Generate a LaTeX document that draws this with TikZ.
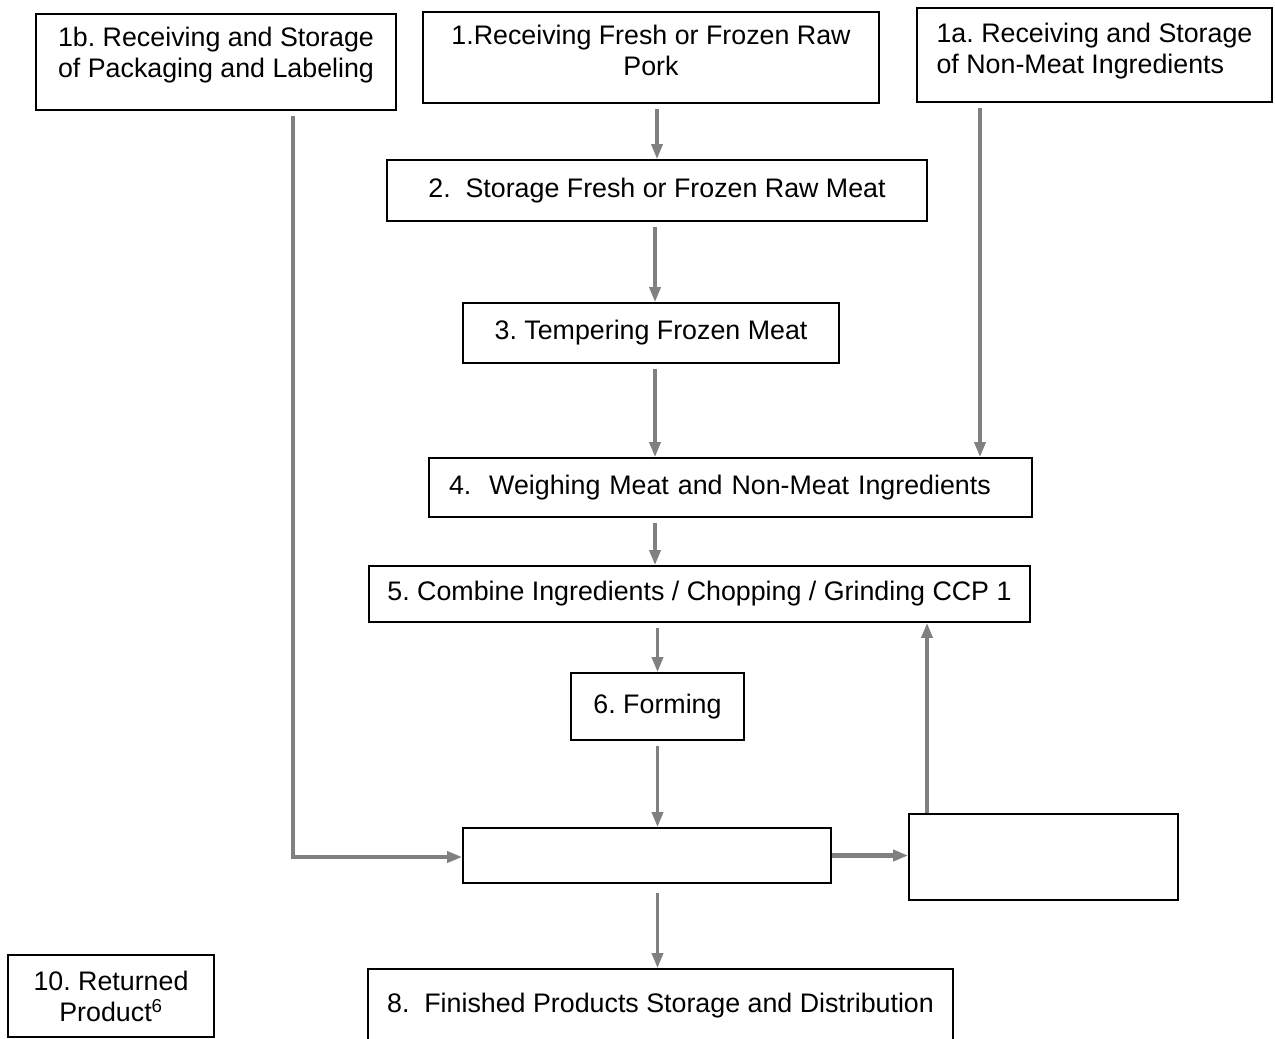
\documentclass[tikz,border=0pt]{standalone}
\usepackage{fontspec}
\setmainfont{Liberation Sans}
\usetikzlibrary{arrows.meta}
\frenchspacing
\begin{document}
\begin{tikzpicture}[x=1pt, y=-1pt,
  box/.style = {shape=rectangle, draw, line width=1.8pt,
    align=center, inner sep=0pt,
    font=\fontsize{26.8}{31}\selectfont},
  flow/.style = {draw=gray, line width=3.5pt,
    -{Triangle[length=15pt, width=11pt]}, shorten <=5pt}]
  \path[use as bounding box, clip] (0,0) rectangle (1275,1039);
  % sources
  \node[box, minimum width=360, minimum height=96, text depth=20pt] (n1b) at (216,62)
    {1b. Receiving and Storage\\of Packaging and Labeling};
  \node[box, minimum width=456, minimum height=91, text depth=14pt] (n1) at (651,57.5)
    {1.Receiving Fresh or Frozen Raw\\Pork};
  \node[box, align=left, minimum width=355, minimum height=94, text depth=13pt] (n1a) at (1094.5,55)
    {1a. Receiving and Storage\\of Non-Meat Ingredients};
  % main line
  \node[box, minimum width=540, minimum height=61] (n2) at (657,190.5)
    {2.~ Storage Fresh or Frozen Raw Meat};
  \node[box, minimum width=376, minimum height=60] (n3) at (651,333)
    {3. Tempering Frozen Meat};
  \node[box, minimum width=603, minimum height=59, text width=563, align=left, inner xsep=20] (n4) at (730.5,487.5)
    {4.~ Weighing Meat and Non-Meat Ingredients};
  \node[box, minimum width=661, minimum height=56] (n5) at (699.5,594)
    {5. Combine Ingredients / Chopping / Grinding CCP 1};
  \node[box, minimum width=173, minimum height=67] (n6) at (657.5,706.5)
    {6. Forming};
  \node[box, minimum width=368, minimum height=55] (n7) at (647,855.5) {};
  \node[box, minimum width=269, minimum height=86] (n9) at (1043.5,857) {};
  \node[box, minimum width=585, minimum height=74] (n8) at (660.5,1006)
    {8.~ Finished Products Storage and Distribution};
  \node[box, minimum width=206, minimum height=82] (n10) at (111,996)
    {10. Returned\\Product\textsuperscript{6}};
  % connectors
  \draw[flow] (n1.south -| n2.north) -- (n2.north);
  \draw[flow] ([xshift=-2]n2.south) -- ([xshift=-2]n2.south |- n3.north);
  \draw[flow] ([xshift=4]n3.south) -- ([xshift=4]n3.south |- n4.north);
  \draw[flow] ([xshift=-114.5]n1a.south) -- ([xshift=-114.5]n1a.south |- n4.north);
  \draw[flow] ([xshift=4]n3.south |- n4.south) -- ([xshift=4]n3.south |- n5.north);
  \draw[flow] (n5.south -| n6.north) -- (n6.north);
  \draw[flow] (n6.south) -- (n6.south |- n7.north);
  \draw[flow] ([xshift=77]n1b.south) |- ([yshift=-1.5]n7.west);
  \draw[flow, line width=5.5pt, shorten <=0pt] (n7.east) -- (n7.east -| n9.west);
  \draw[flow, shorten <=0pt] ([xshift=-116.5]n9.north) -- ([xshift=-116.5]n9.north |- n5.south);
  \draw[flow, shorten <=9pt] (n7.south -| n6.south) -- (n8.north -| n6.south);
\end{tikzpicture}
\end{document}
